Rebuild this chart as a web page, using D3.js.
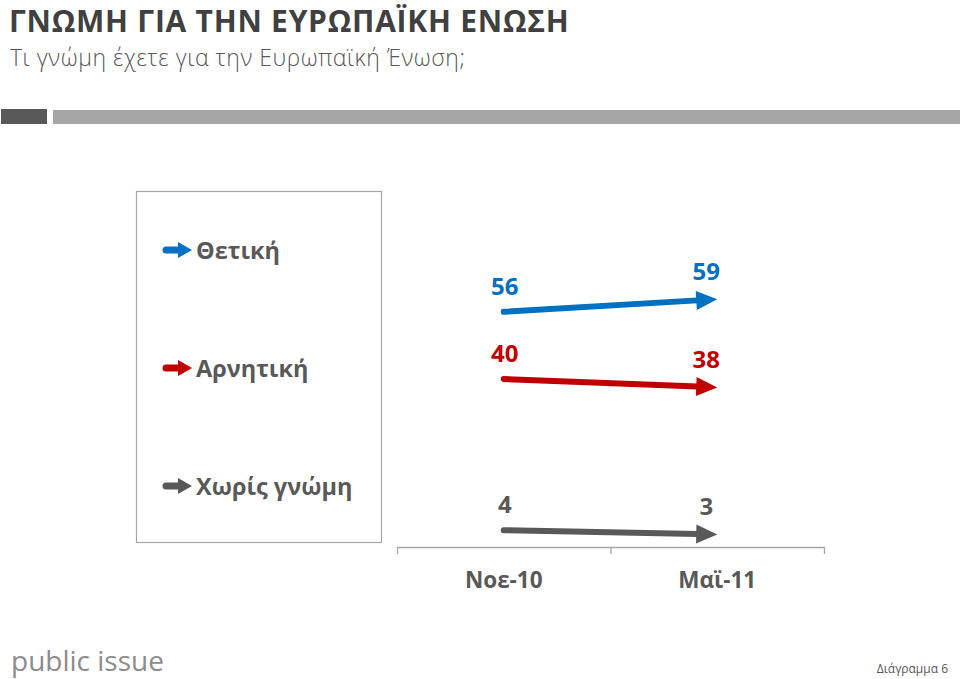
<!DOCTYPE html>
<html><head><meta charset="utf-8">
<script src="https://cdn.jsdelivr.net/npm/d3@7"></script>
<style>
body{margin:0;background:#fff;}
svg text{font-family:"Open Sans","Noto Sans",sans-serif;}
</style></head>
<body><svg id="c" width="960" height="679"></svg>
<script>
const title = "ΓΝΩΜΗ ΓΙΑ ΤΗΝ ΕΥΡΩΠΑΪΚΗ ΕΝΩΣΗ";
const subtitle = "Τι γνώμη έχετε για την Ευρωπαϊκή Ένωση;";
const periods = ["Νοε-10", "Μαϊ-11"];
const seriesNames = ["Θετική", "Αρνητική", "Χωρίς γνώμη"];
const positive = [56, 59];
const negative = [40, 38];
const noOpinion = [4, 3];
const seriesColors = ["#0070C0", "#C00000", "#595959"];
const footerLeft = "public issue";
const footerRight = "Διάγραμμα 6";

const series = [positive, negative, noOpinion].map((v, i) => ({name: seriesNames[i], values: v, color: seriesColors[i]}));

const svg = d3.select("#c");

// header
svg.append("text").attr("x", 9).attr("y", 32).attr("fill", "#404040")
  .attr("font-size", 30).attr("letter-spacing", 0.75).attr("font-weight", 700).text(title);
svg.append("text").attr("x", 10).attr("y", 65.5).attr("fill", "#595959")
  .attr("font-size", 23).attr("letter-spacing", 0.55).attr("font-weight", 300).text(subtitle);
svg.append("rect").attr("x", 1).attr("y", 109).attr("width", 46).attr("height", 15).attr("fill", "#595959");
svg.append("rect").attr("x", 53).attr("y", 110).attr("width", 907).attr("height", 14).attr("fill", "#A6A6A6");

// scales
const x = d3.scaleBand().domain(periods).range([397, 824]);
const y = d3.scaleLinear().domain([0, 100]).range([547, 127]);

// axis
const axis = d3.axisBottom(x).tickSize(7).tickSizeOuter(7).tickFormat("");
const gA = svg.append("g").attr("transform", "translate(0,547)").call(axis);
gA.select(".domain").attr("stroke", "#A6A6A6").attr("d", "M397.5,7V0.5H824.5V7").attr("stroke-width", 1.3);
gA.selectAll(".tick").remove();
svg.append("line").attr("x1", x(periods[1]) + 0.5).attr("x2", x(periods[1]) + 0.5)
  .attr("y1", 547).attr("y2", 554).attr("stroke", "#A6A6A6").attr("stroke-width", 1.3);
svg.selectAll("text.cat").data(periods).join("text").attr("class", "cat")
  .attr("x", d => x(d) + x.bandwidth() / 2).attr("y", 588).attr("text-anchor", "middle")
  .attr("fill", "#595959").attr("font-size", 22.5).attr("font-weight", 700).text(d => d);

const cx = d => x(d) + x.bandwidth() / 2;

// arrows
const headLen = 21, headW = 19, shaft = 6;
series.forEach(s => {
  const x0 = cx(periods[0]), y0 = y(s.values[0]);
  const x1 = cx(periods[1]), y1 = y(s.values[1]);
  const ang = Math.atan2(y1 - y0, x1 - x0);
  const bx = x1 - headLen * Math.cos(ang), by = y1 - headLen * Math.sin(ang);
  svg.append("line").attr("x1", x0).attr("y1", y0).attr("x2", bx + Math.cos(ang)).attr("y2", by + Math.sin(ang))
    .attr("stroke", s.color).attr("stroke-width", shaft).attr("stroke-linecap", "round");
  const px = -Math.sin(ang), py = Math.cos(ang);
  svg.append("path").attr("d", `M${x1},${y1}L${bx + px * headW / 2},${by + py * headW / 2}L${bx - px * headW / 2},${by - py * headW / 2}Z`)
    .attr("fill", s.color);
  svg.append("text").attr("x", x0 + 1).attr("y", y0 - 17).attr("text-anchor", "middle")
    .attr("fill", s.color).attr("font-size", 24).attr("font-weight", 700).text(s.values[0]);
  svg.append("text").attr("x", x1 - 11).attr("y", y1 - 19).attr("text-anchor", "middle")
    .attr("fill", s.color).attr("font-size", 24).attr("font-weight", 700).text(s.values[1]);
});

// legend
svg.append("rect").attr("x", 136.5).attr("y", 191.5).attr("width", 245).attr("height", 351)
  .attr("fill", "none").attr("stroke", "#A6A6A6").attr("stroke-width", 1.2);
const ly = d3.scalePoint().domain(seriesNames).range([250, 486]);
series.forEach(s => {
  const yy = ly(s.name);
  const g = svg.append("g").attr("transform", `translate(163,${yy})`);
  g.append("line").attr("x1", 3).attr("x2", 16).attr("y1", 0).attr("y2", 0)
    .attr("stroke", s.color).attr("stroke-width", 7).attr("stroke-linecap", "round");
  g.append("path").attr("d", "M15,-8L29,0L15,8Z").attr("fill", s.color);
  g.append("text").attr("x", 33).attr("y", 9).attr("fill", "#595959")
    .attr("font-size", 23.5).attr("font-weight", 700).text(s.name);
});

// footer
svg.append("text").attr("x", 11).attr("y", 671).attr("fill", "#8C8C8C")
  .attr("font-size", 28).attr("font-weight", 400).text(footerLeft);
svg.append("text").attr("x", 948).attr("y", 673).attr("text-anchor", "end").attr("fill", "#595959")
  .attr("font-size", 12).text(footerRight);
</script></body></html>
